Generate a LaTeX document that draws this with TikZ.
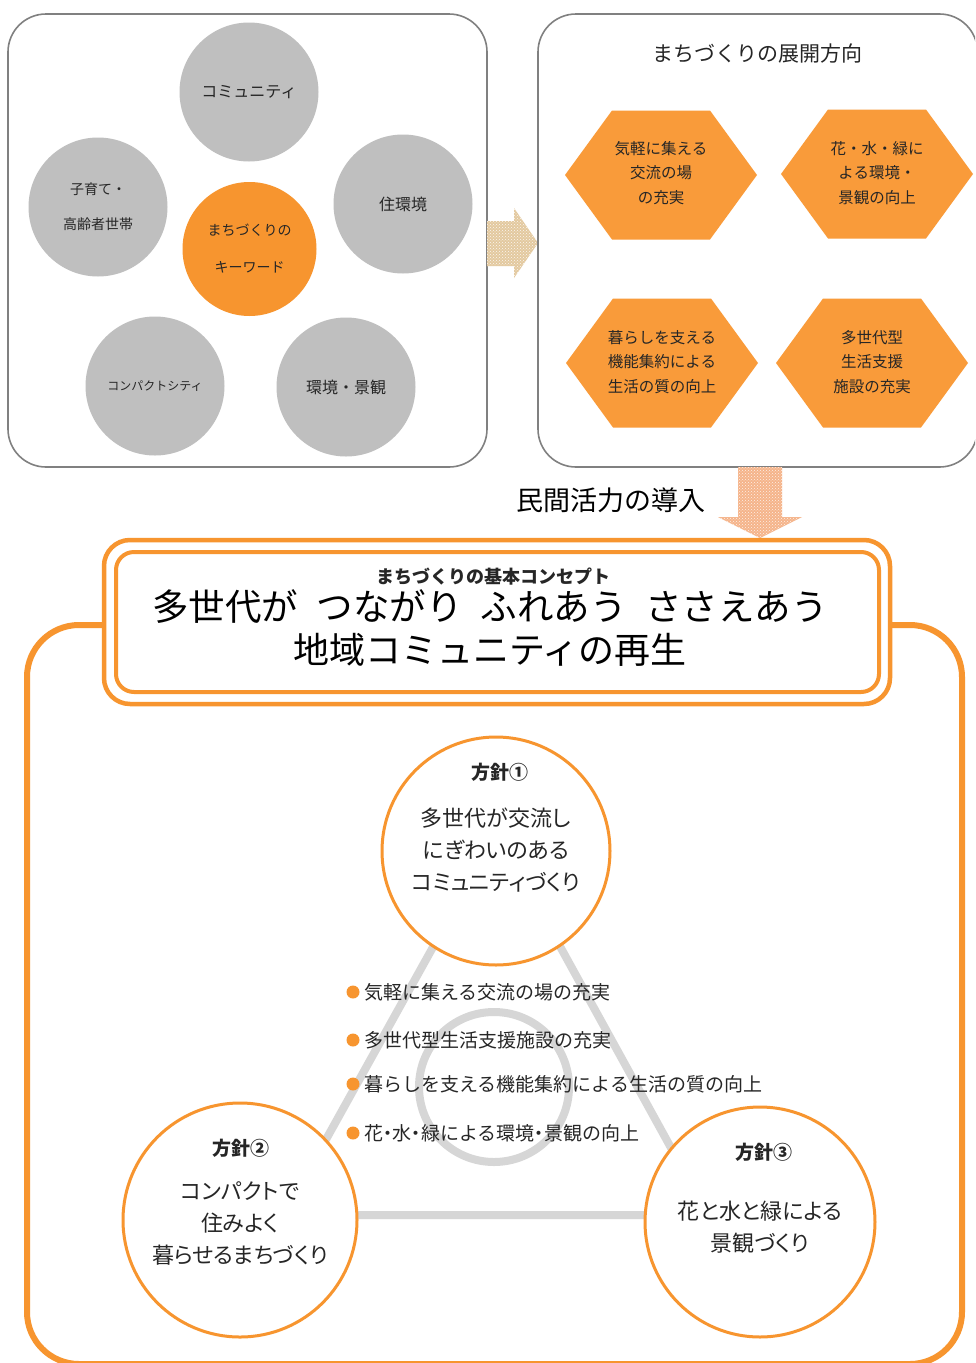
\documentclass[tikz,border=0pt]{standalone}
\usepackage{fontspec}
\setmainfont{Noto Sans CJK JP}
\newfontfamily\pfont{Noto Sans CJK JP}[RawFeature=+palt]
\usetikzlibrary{patterns}
\definecolor{orng}{HTML}{F7952F}
\definecolor{hexor}{HTML}{F99B3A}
\definecolor{cgray}{HTML}{BFBFBF}
\definecolor{bgray}{HTML}{808080}
\definecolor{tgray}{HTML}{262626}
\definecolor{trigray}{HTML}{D6D6D6}
\definecolor{tanc}{HTML}{E3C99F}
\definecolor{peach}{HTML}{F5B48A}
\begin{document}
\begin{tikzpicture}[x=1pt,y=-1pt,
  frame/.style={draw=bgray, line width=1.6pt, rounded corners=38pt},
  kw/.style={circle, fill=cgray, minimum size=139pt, inner sep=0pt, align=center, text=tgray, font=\fontsize{16}{37}\selectfont},
  hexlabel/.style={align=center, text=tgray, font=\fontsize{15.5}{24.5}\selectfont},
  pol/.style={circle, draw=orng, line width=3pt, fill=white, inner sep=0pt},
  poltitle/.style={font=\bfseries\fontsize{19}{22}\selectfont, text=tgray},
  poltext/.style={align=center, text=tgray, font=\pfont\fontsize{22}{32}\selectfont},
  bul/.style={anchor=west, text=tgray, font=\fontsize{19}{22}\selectfont, inner sep=0pt},
  bigline/.style={draw=orng, line width=6pt},
  triline/.style={draw=trigray, line width=8pt}
]
\clip (0,0) rectangle (975,1363);
\fill[white] (0,0) rectangle (975,1363);

% ---- top-left keyword box ----
\node[frame, minimum width=479pt, minimum height=453pt, inner sep=0pt] (kwbox) at (247.5,240.5) {};
\node[kw] (k1) at (249,92) {コミュニティ};
\node[kw] (k2) at (98,207) {\fontsize{14}{37}\selectfont 子育て・\\[-2pt]\fontsize{14}{37}\selectfont 高齢者世帯};
\node[kw] (k3) at (403,204) {住環境};
\node[kw, fill=orng, minimum size=134pt] (k0) at (249.5,249) {\fontsize{14}{37}\selectfont まちづくりの\\\fontsize{14}{37}\selectfont キーワード};
\node[kw, font=\fontsize{12}{14}\selectfont] (k4) at (155,386) {コンパクトシティ};
\node[kw] (k5) at (346,387) {環境・景観};

% ---- right arrow ----
\fill[tanc] (487,221) -- (514,221) -- (514,208) -- (538,243) -- (514,278) -- (514,266) -- (487,266) -- cycle;
\fill[pattern=crosshatch dots, pattern color=white!85!tanc] (487,221) -- (514,221) -- (514,208) -- (538,243) -- (514,278) -- (514,266) -- (487,266) -- cycle;

% ---- top-right box ----
\node[frame, minimum width=439.5pt, minimum height=453pt, inner sep=0pt] (dirbox) at (757.75,240.5) {};
\node[text=tgray, font=\fontsize{21}{24}\selectfont] (dirtitle) at (757,54) {まちづくりの展開方向};
\foreach \cx/\cy in {661/175, 877/174, 662/363, 872/363} {
  \fill[hexor] (\cx-96,\cy) -- (\cx-49,\cy-64.5) -- (\cx+49,\cy-64.5) -- (\cx+96,\cy) -- (\cx+49,\cy+64.5) -- (\cx-49,\cy+64.5) -- cycle;
}
\node[hexlabel] (h1) at (661,173) {気軽に集える\\交流の場\\の充実};
\node[hexlabel] (h2) at (877,173) {花・水・緑に\\よる環境・\\景観の向上};
\node[hexlabel] (h3) at (662,362) {暮らしを支える\\機能集約による\\生活の質の向上};
\node[hexlabel] (h4) at (872,362) {多世代型\\生活支援\\施設の充実};

% ---- down arrow ----
\fill[peach] (738,467) -- (782,467) -- (782,517) -- (802,517) -- (760,538) -- (718,517) -- (738,517) -- cycle;
\fill[pattern=crosshatch dots, pattern color=white!80!peach] (738,467) -- (782,467) -- (782,517) -- (802,517) -- (760,538) -- (718,517) -- (738,517) -- cycle;
\node[text=black, font=\fontsize{27}{30}\selectfont] (minkan) at (611,500) {民間活力の導入};

% ---- big bracket frame ----
\draw[bigline, rounded corners=52pt] (104,625) -- (27,625) -- (27,1364) -- (962,1364) -- (962,625) -- (890,625);

% ---- concept box ----
\draw[orng, line width=4.5pt, rounded corners=26pt] (104,540) rectangle (890,704);
\node[draw=orng, line width=4pt, rounded corners=18pt, fill=white, minimum width=763pt, minimum height=140pt, inner sep=0pt] (concept) at (497.5,622) {};
\node[font=\bfseries\fontsize{18}{20}\selectfont, text=tgray] (ctitle) at (493,577) {まちづくりの基本コンセプト};
\node[font=\fontsize{36.5}{40}\selectfont, text=black] (cl1) at (490,607) {多世代が\hspace{0.5em}つながり\hspace{0.5em}ふれあう\hspace{0.5em}ささえあう};
\node[font=\fontsize{36}{40}\selectfont, text=black] (cl2) at (490,650) {地域コミュニティの再生};

% ---- triangle and ring ----
\coordinate (t1) at (497,832);
\coordinate (t2) at (284,1215);
\coordinate (t3) at (708,1215);
\draw[triline] (t1) -- (t2) -- (t3) -- cycle;
\draw[triline] (494,1087) circle (75);

% ---- policy circles ----
\node[pol, minimum size=228pt] (p1) at (496,851) {};
\node[pol, minimum size=234pt] (p2) at (240,1220) {};
\node[pol, minimum size=230pt] (p3) at (760,1222) {};
\node[poltitle] (p1t) at (500,772) {方針①};
\node[poltext] (p1x) at (496,850) {多世代が交流し\\にぎわいのある\\コミュニティづくり};
\node[poltitle] (p2t) at (241,1148) {方針②};
\node[poltext] (p2x) at (240,1223) {コンパクトで\\住みよく\\暮らせるまちづくり};
\node[poltitle] (p3t) at (764,1152) {方針③};
\node[poltext] (p3x) at (760,1227) {花と水と緑による\\景観づくり};

% ---- bullets ----
\foreach \yy/\tx/\nm in {992/気軽に集える交流の場の充実/b1, 1040/多世代型生活支援施設の充実/b2, 1084/暮らしを支える機能集約による生活の質の向上/b3, 1133/花{\pfont ・}水{\pfont ・}緑による環境{\pfont ・}景観の向上/b4} {
  \fill[orng] (353,\yy) circle (6.5);
  \node[bul] (\nm) at (364,\yy) {\tx};
}
\end{tikzpicture}
\end{document}
